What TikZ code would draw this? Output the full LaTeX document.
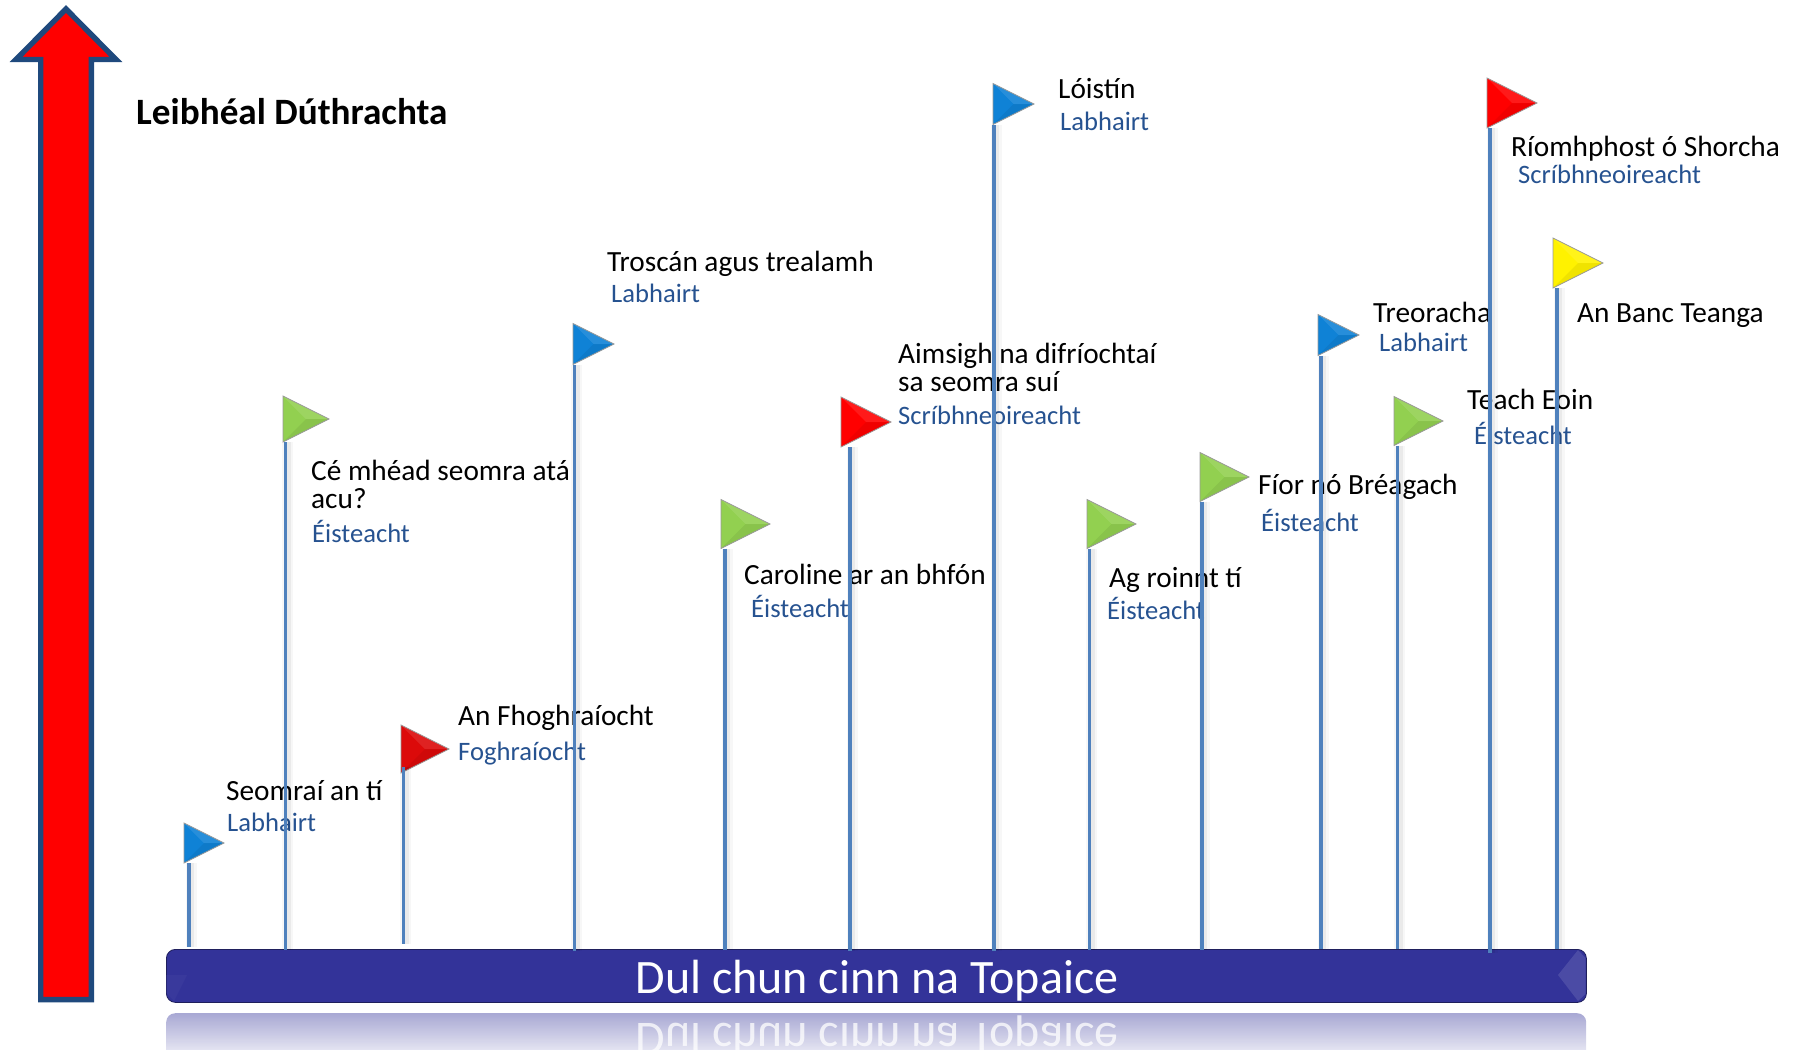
\documentclass[tikz,border=0pt]{standalone}
\usepackage{fontspec}
\setmainfont{Carlito}
\usetikzlibrary{shapes.geometric}
\definecolor{arrowedge}{HTML}{1F497D}
\definecolor{skillblue}{HTML}{265290}
\definecolor{stemblue}{HTML}{4F81BD}
\definecolor{barblue}{HTML}{333399}
\definecolor{flagblue}{HTML}{0F82D6}
\definecolor{flaggreen}{HTML}{92D050}
\definecolor{flagdark}{HTML}{DC0A0A}

\begin{document}
\begin{tikzpicture}[x=1pt,y=-1pt,
  topic/.style={anchor=base west,inner sep=0pt,yshift=-1pt,font=\fontsize{29.3}{30}\selectfont,align=left},
  skill/.style={anchor=base west,inner sep=0pt,yshift=-1pt,font=\fontsize{26.6}{28}\selectfont,text=skillblue},
  stem/.style={draw=stemblue,line width=3.6pt,preaction={draw=black,opacity=.03,line width=11pt,transform canvas={xshift=2pt}},preaction={draw=black,opacity=.05,line width=6pt,transform canvas={xshift=2pt}}},
  flag/.style 2 args={isosceles triangle,isosceles triangle stretches,anchor=lower side,inner sep=0pt,outer sep=0pt,
    minimum width=#1,minimum height=#1,draw=black!40,line width=.7pt,fill=#2,
    path picture={
      \fill[white,opacity=.1] (path picture bounding box.north west) -- (path picture bounding box.center) -- (path picture bounding box.east) -- cycle;
      \fill[black,opacity=.06] (path picture bounding box.south west) -- (path picture bounding box.center) -- (path picture bounding box.east) -- cycle;
    }},
  ]
\clip (0,0) rectangle (1798,1049);

\draw[draw=arrowedge,fill=red,line width=5.4pt,miter limit=10]
  (66,9) -- (116,59.5) -- (91.3,59.5) -- (91.3,999.6) -- (40.7,999.6) -- (40.7,59.5) -- (16,59.5) -- cycle;
\node[anchor=base west,inner sep=0pt,font=\fontsize{37.2}{38}\selectfont\bfseries] (title) at (136,124) {Leibhéal Dúthrachta};

\node[anchor=north west,inner sep=0pt,minimum width=1420pt,minimum height=54pt,rounded corners=9pt,
  top color=barblue!50!white,bottom color=white,shading angle=0,opacity=.85] (mirror) at (166,1013) {};
\node[anchor=base,inner sep=0pt,text=white,opacity=.75,yscale=-1,transform shape,font=\fontsize{48}{50}\selectfont] (mirrortext) at (877,1023) {Dul chun cinn na Topaice};

\node[anchor=north west,inner sep=0pt,minimum width=1420pt,minimum height=53pt,rounded corners=9pt,
  fill=barblue,draw=black!40!barblue,line width=.8pt] (bar) at (166,949) {};
\fill[barblue!88!white] (1578,950) -- (1585.5,958) -- (1585.5,994) -- (1578,1001) -- (1558,975) -- cycle;
\fill[barblue!97!white] (174,1001) -- (166.5,993) -- (166.5,975) -- (187,975) -- cycle;
\node[anchor=base,inner sep=0pt,text=white,font=\fontsize{48}{50}\selectfont] (bartext) at (877,993) {Dul chun cinn na Topaice};

\node[topic] (t1) at (226,799) {Seomraí an tí};
\node[skill] (s1) at (227,830) {Labhairt};
\node[topic] (t2) at (311,479) {Cé mhéad seomra atá};
\node[topic] (t2b) at (311,507) {acu?};
\node[skill] (s2) at (312,541) {Éisteacht};
\node[topic] (t3) at (458,724) {An Fhoghraíocht};
\node[skill] (s3) at (458,759) {Foghraíocht};
\node[topic] (t4) at (607,270) {Troscán agus trealamh};
\node[skill] (s4) at (611,301) {Labhairt};
\node[topic] (t5) at (744,583) {Caroline ar an bhfón};
\node[skill] (s5) at (751,616) {Éisteacht};
\node[topic] (t6) at (898,362) {Aimsigh na difríochtaí};
\node[topic] (t6b) at (898,390) {sa seomra suí};
\node[skill] (s6) at (898,423) {Scríbhneoireacht};
\node[topic] (t7) at (1058,97) {Lóistín};
\node[skill] (s7) at (1060,129) {Labhairt};
\node[topic] (t8) at (1109,586) {Ag roinnt tí};
\node[skill] (s8) at (1107,618) {Éisteacht};
\node[topic] (t9) at (1258,493) {Fíor nó Bréagach};
\node[skill] (s9) at (1261,530) {Éisteacht};
\node[topic] (t10) at (1373,321) {Treoracha};
\node[skill] (s10) at (1379,350) {Labhairt};
\node[topic] (t11) at (1467,408) {Teach Eoin};
\node[skill] (s11) at (1474,443) {Éisteacht};
\node[topic] (t12) at (1511,155) {Ríomhphost ó Shorcha};
\node[skill] (s12) at (1518,182) {Scríbhneoireacht};
\node[topic] (t13) at (1577,321) {An Banc Teanga};

\node[flag={40pt}{flagblue}] (f1) at (184,843) {};
\node[flag={46pt}{flaggreen}] (f2) at (283,419) {};
\node[flag={48pt}{flagdark}] (f3) at (401,749) {};
\node[flag={41pt}{flagblue}] (f4) at (573,344) {};
\node[flag={49pt}{flaggreen}] (f5) at (721,524) {};
\node[flag={50pt}{red}] (f6) at (841,422) {};
\node[flag={41pt}{flagblue}] (f7) at (993,104) {};
\node[flag={49pt}{flaggreen}] (f8) at (1087,524) {};
\node[flag={49pt}{flaggreen}] (f9) at (1200,477) {};
\node[flag={41pt}{flagblue}] (f10) at (1318,335) {};
\node[flag={49pt}{flaggreen}] (f11) at (1394,421) {};
\node[flag={50pt}{red}] (f12) at (1487,103) {};
\node[flag={50pt}{yellow}] (f13) at (1553,263) {};

\coordinate (foot1) at (189,947);
\coordinate (foot2) at (285.5,950);
\coordinate (foot3) at (403.5,944);
\coordinate (foot4) at (574.5,951);
\coordinate (foot5) at (725,950);
\coordinate (foot6) at (850,951);
\coordinate (foot7) at (994,951);
\coordinate (foot8) at (1089.5,950);
\coordinate (foot9) at (1202,950);
\coordinate (foot10) at (1321,949);
\coordinate (foot11) at (1397.5,949);
\coordinate (foot12) at (1490,953);
\coordinate (foot13) at (1557,949);

\draw[stem] (foot1 |- f1.right corner) -- (foot1);
\draw[stem] (foot2 |- f2.right corner) -- (foot2);
\draw[stem] ([yshift=-18pt]foot3 |- f3.center) -- (foot3);
\draw[stem] (foot4 |- f4.right corner) -- (foot4);
\draw[stem] (foot5 |- f5.right corner) -- (foot5);
\draw[stem] (foot6 |- f6.right corner) -- (foot6);
\draw[stem] (foot7 |- f7.right corner) -- (foot7);
\draw[stem] (foot8 |- f8.right corner) -- (foot8);
\draw[stem] (foot9 |- f9.right corner) -- (foot9);
\draw[stem] (foot10 |- f10.right corner) -- (foot10);
\draw[stem] (foot11 |- f11.right corner) -- (foot11);
\draw[stem] (foot12 |- f12.right corner) -- (foot12);
\draw[stem] (foot13 |- f13.right corner) -- (foot13);
\end{tikzpicture}
\end{document}
